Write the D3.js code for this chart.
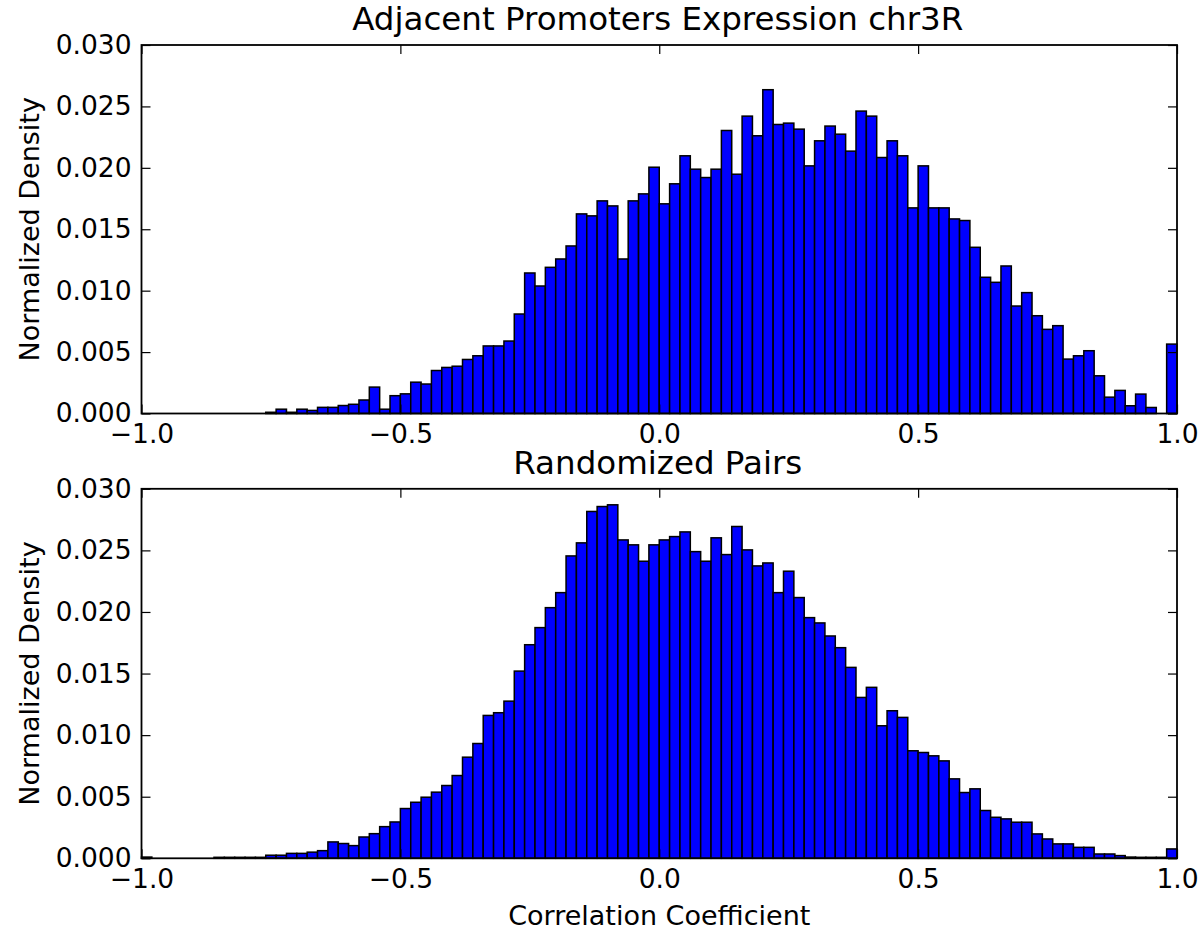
<!DOCTYPE html>
<html>
<head>
<meta charset="utf-8">
<script src="https://cdn.jsdelivr.net/npm/d3@7"></script>
<style>
  body { margin: 0; background: #fff; }
  text { font-family: "DejaVu Sans", sans-serif; fill: #000; }
</style>
</head>
<body>
<div id="chart"></div>
<script>
// histogram bins: 100 bins of width 0.02 from -1 to 1
var binStart = -1;
var binWidth = 0.02;

var adjacentDensity = [
  0, 0, 0, 0, 0, 0, 0, 0, 0, 0,
  0, 0, 0.0001, 0.00035, 0.0001, 0.00035, 0.00025, 0.0005, 0.0005, 0.00065,
  0.00075, 0.0011, 0.00215, 0.00035, 0.00145, 0.0016, 0.00255, 0.0024, 0.0035, 0.00375,
  0.00385, 0.0044, 0.0047, 0.0055, 0.0055, 0.0059, 0.0081, 0.01144, 0.01038, 0.0119,
  0.01258, 0.01364, 0.01625, 0.01609, 0.01731, 0.0169, 0.01258, 0.01731, 0.01788, 0.02005,
  0.01707, 0.0187, 0.02098, 0.01989, 0.01921, 0.01989, 0.02304, 0.01948, 0.02421, 0.02261,
  0.02636, 0.02353, 0.02364, 0.02315, 0.02016, 0.0222, 0.0234, 0.02274, 0.02136, 0.02462,
  0.02421, 0.02084, 0.0222, 0.02098, 0.01674, 0.02016, 0.01674, 0.01674, 0.01584, 0.01571,
  0.01353, 0.01109, 0.01068, 0.01201, 0.00875, 0.00984, 0.00796, 0.00685, 0.00715, 0.00443,
  0.0047, 0.00511, 0.00307, 0.00133, 0.00188, 0.00063, 0.00158, 0.00049, 0, 0.00565
];

var randomDensity = [
  0.0001, 0, 0, 0, 0, 0, 0, 0.00008, 0.00008, 0.00008,
  0.00008, 0.00008, 0.00025, 0.00025, 0.0004, 0.0004, 0.0005, 0.00062, 0.00133, 0.0012,
  0.00103, 0.00173, 0.002, 0.00257, 0.00295, 0.00404, 0.00455, 0.00496, 0.00537, 0.00591,
  0.00672, 0.00821, 0.00932, 0.0116, 0.01182, 0.01276, 0.0152, 0.01734, 0.01873, 0.02035,
  0.02157, 0.02455, 0.02561, 0.02816, 0.02856, 0.0287, 0.02585, 0.02545, 0.02412, 0.02545,
  0.02585, 0.02612, 0.0265, 0.0249, 0.02412, 0.02602, 0.02466, 0.02694, 0.02504, 0.02374,
  0.02398, 0.02157, 0.02331, 0.02117, 0.01954, 0.01911, 0.01805, 0.0171, 0.0155, 0.01306,
  0.01388, 0.01076, 0.01198, 0.01144, 0.00873, 0.00859, 0.00832, 0.00791, 0.00645, 0.00534,
  0.00564, 0.00388, 0.00333, 0.0032, 0.00293, 0.00293, 0.00198, 0.00157, 0.00117, 0.00117,
  0.00089, 0.00089, 0.00035, 0.00035, 0.00022, 0.0001, 0.00008, 0.00008, 0.00008, 0.00076
];

var titles = ['Adjacent Promoters Expression chr3R', 'Randomized Pairs'];
var xTicks = [-1, -0.5, 0, 0.5, 1];
var yTicks = [0, 0.005, 0.01, 0.015, 0.02, 0.025, 0.03];
var yLabel = 'Normalized Density';
var xLabel = 'Correlation Coefficient';

var width = 1202, height = 930;
var left = 141.5, right = 1177;
var panels = [
  { title: titles[0], values: adjacentDensity, top: 45, bottom: 413.5, xLabel: null },
  { title: titles[1], values: randomDensity, top: 488.8, bottom: 858.3, xLabel: xLabel }
];

var svg = d3.select('#chart').append('svg')
  .attr('width', width)
  .attr('height', height);

var xScale = d3.scaleLinear().domain([-1, 1]).range([left, right]);
var tickLen = 9;
var fmtX = d3.format('.1f');
var fmtY = d3.format('.3f');

panels.forEach(function (p) {
  var yScale = d3.scaleLinear().domain([0, 0.03]).range([p.bottom, p.top]);
  var g = svg.append('g').classed('panel', true);

  // bars
  g.append('g').classed('bars', true)
    .selectAll('rect').data(p.values).enter().append('rect')
    .attr('x', function (d, i) { return xScale(binStart + i * binWidth); })
    .attr('width', function (d, i) { return xScale(binStart + (i + 1) * binWidth) - xScale(binStart + i * binWidth); })
    .attr('y', function (d) { return yScale(d); })
    .attr('height', function (d) { return yScale(0) - yScale(d); })
    .style('fill', '#0000ff')
    .style('stroke', '#000')
    .style('stroke-width', 1.5);

  // axes, ticks pointing inward on all four sides
  var axes = [
    { axis: d3.axisLeft(yScale).tickValues(yTicks).tickFormat(fmtY).tickPadding(10), t: 'translate(' + left + ',0)' },
    { axis: d3.axisRight(yScale).tickValues(yTicks).tickFormat(''), t: 'translate(' + right + ',0)' },
    { axis: d3.axisBottom(xScale).tickValues(xTicks).tickFormat(fmtX).tickPadding(11), t: 'translate(0,' + p.bottom + ')' },
    { axis: d3.axisTop(xScale).tickValues(xTicks).tickFormat(''), t: 'translate(0,' + p.top + ')' }
  ];
  axes.forEach(function (a) {
    var ag = g.append('g').attr('transform', a.t)
      .call(a.axis.tickSizeInner(-tickLen).tickSizeOuter(0));
    ag.select('.domain').remove();
    ag.selectAll('.tick line').attr('stroke', '#000').attr('stroke-width', 1.2);
    ag.selectAll('.tick text')
      .style('font-size', '26.5px')
      .style('font-family', '"DejaVu Sans", sans-serif')
      .attr('fill', '#000');
  });

  // frame
  g.append('rect')
    .attr('x', left).attr('y', p.top)
    .attr('width', right - left).attr('height', p.bottom - p.top)
    .style('fill', 'none').style('stroke', '#000').style('stroke-width', 1.8);

  // title
  g.append('text')
    .text(p.title)
    .attr('x', (left + right) / 2 - 1.5)
    .attr('y', p.top - 15)
    .attr('text-anchor', 'middle')
    .style('font-size', '32.5px');

  // y label
  g.append('text')
    .text(yLabel)
    .attr('transform', 'translate(39,' + ((p.top + p.bottom) / 2) + ') rotate(-90)')
    .attr('text-anchor', 'middle')
    .style('font-size', '27px');

  if (p.xLabel) {
    g.append('text')
      .text(p.xLabel)
      .attr('x', (left + right) / 2)
      .attr('y', p.bottom + 66.7)
      .attr('text-anchor', 'middle')
      .style('font-size', '27px');
  }
});
</script>
</body>
</html>
